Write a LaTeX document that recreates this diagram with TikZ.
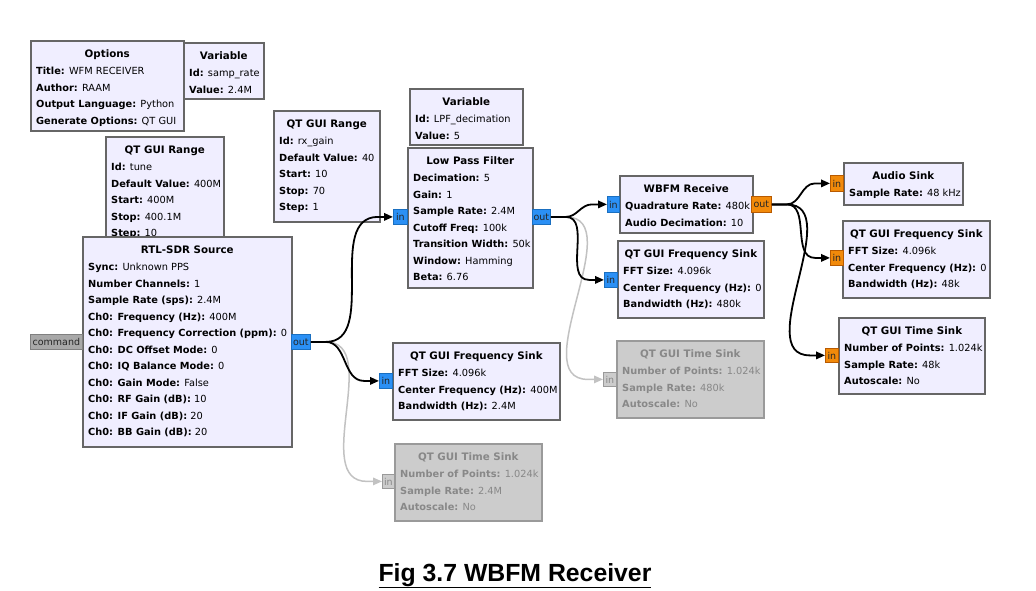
\documentclass[tikz,border=0pt]{standalone}
\usepackage{fontspec}
\setmainfont{DejaVu Sans}
\newfontfamily\capfont{Liberation Sans}
\usetikzlibrary{arrows.meta,calc}
\definecolor{blkfill}{HTML}{F0EEFF}
\definecolor{blkdraw}{HTML}{666666}
\definecolor{disfill}{HTML}{CCCCCC}
\definecolor{disdraw}{HTML}{9A9A9A}
\definecolor{distext}{HTML}{888888}
\definecolor{portblue}{HTML}{2B90F5}
\definecolor{portbluedraw}{HTML}{1A6FC0}
\definecolor{portorange}{HTML}{F28A0A}
\definecolor{portorangedraw}{HTML}{B85A00}
\definecolor{portgray}{HTML}{A8A8A8}
\definecolor{wiredis}{HTML}{C2C2C2}
\tikzset{
  blk-en/.style={draw=blkdraw, fill=blkfill, line width=1.6pt, anchor=north west, inner sep=0pt},
  blk-dis/.style={draw=disdraw, fill=disfill, line width=1.6pt, anchor=north west, inner sep=0pt},
  title-en/.style={font=\fontsize{10.3}{12}\selectfont\bfseries, text=black, inner sep=0pt},
  title-dis/.style={font=\fontsize{10.3}{12}\selectfont\bfseries, text=distext, inner sep=0pt},
  txt-en/.style={font=\fontsize{9.8}{12}\selectfont, text=black, inner sep=0pt},
  txt-dis/.style={font=\fontsize{9.8}{12}\selectfont, text=distext, inner sep=0pt},
  port/.style={anchor=north west, inner sep=0.5pt, line width=0.8pt, font=\fontsize{9.5}{10}\selectfont, text=black!85},
  pblue/.style={port, fill=portblue, draw=portbluedraw},
  porange/.style={port, fill=portorange, draw=portorangedraw},
  pgray/.style={port, fill=portgray, draw=gray},
  pdis/.style={port, fill=disfill, draw=disdraw, text=distext},
  wire/.style={line width=1.8pt, draw=black, -{Triangle[length=9pt,width=7.5pt]}},
  wiredisabled/.style={line width=1.5pt, draw=wiredis, -{Triangle[length=9pt,width=7.5pt]}},
}
% name, x, y, w, h, title, key/value list, en|dis
\newcommand\grcblock[8]{%
  \node[blk-#8, minimum width=#4pt, minimum height=#5pt] (#1) at (#2,#3) {};
  \node[title-#8, anchor=base] (#1-t) at ($(#1.north)+(0,17.5)$) {#6};
  \foreach \kk/\vv [count=\nn] in {#7} {
    \node[txt-#8, anchor=base west] (#1-\nn) at ($(#1.north west)+(6,{34.5+16.5*(\nn-1)})$) {\textbf{\kk:} \vv};
  }
}
\newcommand\grcwire[3][wire]{%
  \draw[#1] (#2.east) -- ++(15,0) to[out=0,in=180] ($(#3.west)+(-15,0)$) -- (#3.west);
}
\begin{document}
\begin{tikzpicture}[x=1pt,y=-1pt]
\useasboundingbox (0,0) rectangle (1036,590);
\fill[white] (0,0) rectangle (1036,590);

\grcblock{opt}{30}{40}{153}{90}{Options}{Title/WFM RECEIVER,
Author/RAAM,
Output Language/Python,
Generate Options/QT GUI}{en}
\grcblock{var1}{183}{42}{80}{56}{Variable}{Id/samp\_rate,
Value/2.4M}{en}
\grcblock{tune}{105}{136}{118}{110}{QT GUI Range}{Id/tune,
Default Value/400M,
Start/400M,
Stop/400.1M,
Step/10}{en}
\grcblock{rtl}{82}{236}{209}{210}{RTL-SDR Source}{Sync/Unknown PPS,
Number Channels/1,
Sample Rate (sps)/2.4M,
Ch0: Frequency (Hz)/400M,
Ch0: Frequency Correction (ppm)/0,
Ch0: DC Offset Mode/0,
Ch0: IQ Balance Mode/0,
Ch0: Gain Mode/False,
Ch0: RF Gain (dB)/10,
Ch0: IF Gain (dB)/20,
Ch0: BB Gain (dB)/20}{en}
\grcblock{rxg}{273}{110}{106}{111}{QT GUI Range}{Id/rx\_gain,
Default Value/40,
Start/10,
Stop/70,
Step/1}{en}
\grcblock{var2}{409}{88}{113}{56}{Variable}{Id/LPF\_decimation,
Value/5}{en}
\grcblock{lpf}{407}{147}{125}{140}{Low Pass Filter}{Decimation/5,
Gain/1,
Sample Rate/2.4M,
Cutoff Freq/100k,
Transition Width/50k,
Window/Hamming,
Beta/6.76}{en}
\grcblock{wbfm}{619}{175}{133}{57}{WBFM Receive}{Quadrature Rate/480k,
Audio Decimation/10}{en}
\grcblock{fsm}{617}{240}{146}{77}{QT GUI Frequency Sink}{FFT Size/4.096k,
Center Frequency (Hz)/0,
Bandwidth (Hz)/480k}{en}
\grcblock{aud}{843}{162}{119}{42}{Audio Sink}{Sample Rate/48 kHz}{en}
\grcblock{fsr}{842}{220}{147}{77}{QT GUI Frequency Sink}{FFT Size/4.096k,
Center Frequency (Hz)/0,
Bandwidth (Hz)/48k}{en}
\grcblock{tsr}{838}{317}{146}{76}{QT GUI Time Sink}{Number of Points/1.024k,
Sample Rate/48k,
Autoscale/No}{en}
\grcblock{fsb}{392}{342}{167}{77}{QT GUI Frequency Sink}{FFT Size/4.096k,
Center Frequency (Hz)/400M,
Bandwidth (Hz)/2.4M}{en}
\grcblock{tsm}{616}{340}{147}{77}{QT GUI Time Sink}{Number of Points/1.024k,
Sample Rate/480k,
Autoscale/No}{dis}
\grcblock{tsb}{394}{443}{147}{77}{QT GUI Time Sink}{Number of Points/1.024k,
Sample Rate/2.4M,
Autoscale/No}{dis}

% ports
\node[pgray, minimum width=52pt, minimum height=15pt] (cmd) at (30,334) {command};
\node[pblue, minimum width=19pt, minimum height=15pt] (rtl-out) at (291,334) {out};
\node[pblue, minimum width=14pt, minimum height=15pt] (lpf-in) at (393,209) {in};
\node[pblue, minimum width=18pt, minimum height=15pt] (lpf-out) at (532,209) {out};
\node[pblue, minimum width=12pt, minimum height=16pt] (wbfm-in) at (607,196) {in};
\node[porange, minimum width=20pt, minimum height=16pt] (wbfm-out) at (751,196) {out};
\node[pblue, minimum width=13pt, minimum height=15pt] (fsm-in) at (604,272) {in};
\node[pdis, minimum width=13pt, minimum height=14pt] (tsm-in) at (603,372) {in};
\node[pblue, minimum width=13pt, minimum height=15pt] (fsb-in) at (379,373) {in};
\node[pdis, minimum width=12pt, minimum height=14pt] (tsb-in) at (382,474) {in};
\node[porange, minimum width=13pt, minimum height=16pt] (aud-in) at (830,175) {in};
\node[porange, minimum width=13pt, minimum height=15pt] (fsr-in) at (830,250) {in};
\node[porange, minimum width=13pt, minimum height=14pt] (tsr-in) at (825,348) {in};

% wires
\grcwire[wiredisabled]{rtl-out}{tsb-in}
\grcwire[wiredisabled]{lpf-out}{tsm-in}
\grcwire{rtl-out}{lpf-in}
\grcwire{rtl-out}{fsb-in}
\grcwire{lpf-out}{wbfm-in}
\grcwire{lpf-out}{fsm-in}
\grcwire{wbfm-out}{aud-in}
\grcwire{wbfm-out}{fsr-in}
\grcwire{wbfm-out}{tsr-in}

\node[font=\capfont\fontsize{24.8}{28}\selectfont\bfseries, anchor=base, inner sep=0pt] (caption) at (515,581) {\underline{Fig 3.7 WBFM Receiver}};
\end{tikzpicture}
\end{document}
